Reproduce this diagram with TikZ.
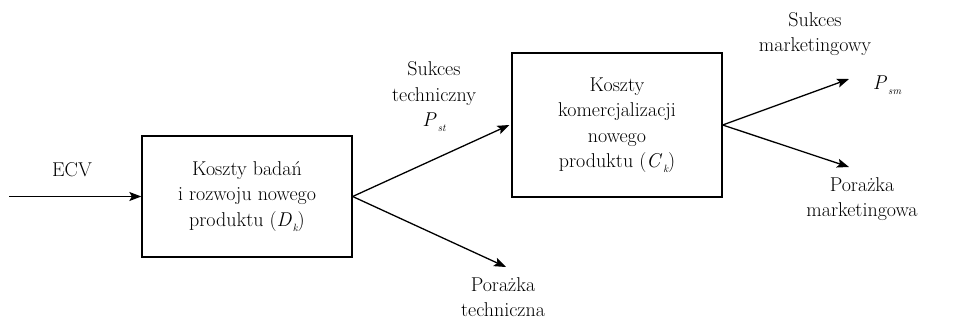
\documentclass[tikz,border=0pt]{standalone}
\usepackage{fontspec}
\usetikzlibrary{arrows.meta}
\newcommand\lowidx[1]{\kern1pt\raisebox{-5pt}{\fontsize{10.5}{10.5}\selectfont\itshape #1}}
\newcommand\varP[1]{\textit{P}\lowidx{#1}}
\begin{document}
\begin{tikzpicture}[x=1pt,y=-1pt,
  every node/.style={font=\fontsize{20}{25.5}\selectfont, align=center, inner sep=0pt},
  costbox/.style={draw, line width=1.3pt, minimum width=210pt},
  flow/.style={line width=1.3pt, -{Stealth[length=12pt,width=9pt,inset=2.5pt]}}]
  \useasboundingbox (0,0) rectangle (955,321);

  % stage boxes
  \node[costbox, minimum height=121pt] (rd) at (247,196.5)
    {Koszty badań\\i rozwoju nowego\\produktu (\textit{D}\lowidx{k})};
  \node[costbox, minimum height=144pt] (com) at (617,125)
    {Koszty\\komercjalizacji\\nowego\\produktu (\textit{C}\lowidx{k})};

  % free ends of the connectors
  \coordinate (in) at (9,196.5);
  \coordinate (tfail) at (506,267);
  \coordinate (msucc) at (849,79);
  \coordinate (mfail) at (849,167);

  % connectors
  \draw[flow] (in) -- (rd.west);
  \draw[flow] (rd.east) -- ([xshift=-2pt]com.west);
  \draw[flow] (rd.east) -- (tfail);
  \draw[flow] (com.east) -- (msucc);
  \draw[flow] (com.east) -- (mfail);

  % labels
  \node (ecv) at (72,170) {ECV};
  \node (tsl) at (434,97) {Sukces\\techniczny\\\varP{st}};
  \node (tfl) at (503,297) {Porażka\\techniczna};
  \node (msl) at (815,34) {Sukces\\marketingowy};
  \node (psm) at (887,85) {\varP{sm}};
  \node (mfl) at (862,199) {Porażka\\marketingowa};
\end{tikzpicture}
\end{document}
